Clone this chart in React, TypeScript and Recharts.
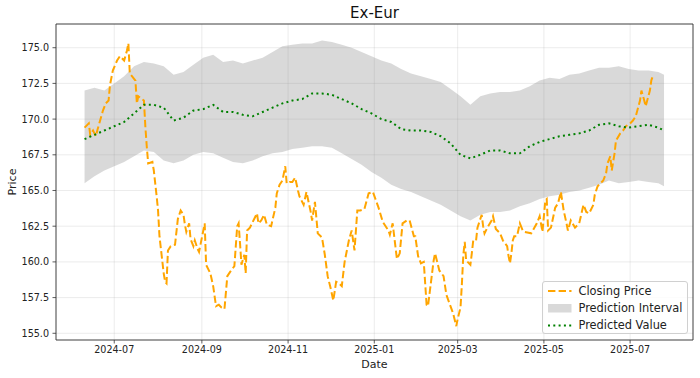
import React from 'react';
import { ComposedChart, Area, Line, XAxis, YAxis, CartesianGrid, ReferenceArea } from 'recharts';

const FONT = '"DejaVu Sans", "Liberation Sans", sans-serif';

// Prediction interval / predicted value (weekly)
const bandDates = [
  '2024-06-10','2024-06-17','2024-06-24','2024-07-01','2024-07-08','2024-07-15','2024-07-22','2024-07-29','2024-08-05','2024-08-12',
  '2024-08-19','2024-08-26','2024-09-02','2024-09-09','2024-09-16','2024-09-23','2024-09-30','2024-10-07','2024-10-14','2024-10-21',
  '2024-10-28','2024-11-04','2024-11-11','2024-11-18','2024-11-25','2024-12-02','2024-12-09','2024-12-16','2024-12-23','2024-12-30',
  '2025-01-06','2025-01-13','2025-01-20','2025-01-27','2025-02-03','2025-02-10','2025-02-17','2025-02-24','2025-03-03','2025-03-10',
  '2025-03-17','2025-03-24','2025-03-31','2025-04-07','2025-04-14','2025-04-21','2025-04-28','2025-05-05','2025-05-12','2025-05-19',
  '2025-05-26','2025-06-02','2025-06-09','2025-06-16','2025-06-23','2025-06-30','2025-07-07','2025-07-14','2025-07-21','2025-07-25',
];
const bandUpper = [
  172.0,172.2,172.0,172.5,173.0,173.7,174.0,173.9,173.7,173.1,
  173.3,173.8,174.3,174.5,174.0,174.1,173.9,174.1,174.3,174.7,
  175.1,175.2,175.3,175.3,175.5,175.4,175.2,175.0,174.7,174.4,
  174.1,173.9,173.5,173.2,173.0,172.8,172.6,172.1,171.6,171.0,
  171.6,171.8,171.9,171.9,172.0,172.3,172.7,172.9,172.8,173.1,
  173.2,173.4,173.6,173.6,173.7,173.5,173.4,173.4,173.3,173.1,
];
const bandLower = [
  165.5,166.0,166.4,166.7,167.0,167.4,167.8,167.7,167.1,166.9,
  167.1,167.5,167.7,167.6,167.3,167.0,166.9,167.1,167.4,167.6,
  167.7,167.9,168.0,168.1,168.1,168.0,167.6,167.2,166.8,166.3,
  165.9,165.4,165.1,164.9,164.6,164.3,164.0,163.6,163.2,162.9,
  163.3,163.5,163.5,163.6,163.9,164.1,164.4,164.6,164.7,164.9,
  165.0,165.2,165.4,165.7,165.5,165.6,165.7,165.6,165.5,165.3,
];
const predicted = [
  168.6,168.9,169.2,169.5,169.8,170.4,171.0,171.0,170.8,169.9,
  170.1,170.6,170.7,171.0,170.5,170.5,170.3,170.2,170.5,170.8,
  171.1,171.3,171.4,171.8,171.8,171.7,171.4,171.1,170.7,170.4,
  170.0,169.8,169.3,169.2,169.2,169.1,168.8,168.3,167.5,167.25,
  167.5,167.8,167.8,167.6,167.6,168.1,168.4,168.6,168.8,168.9,
  169.0,169.2,169.6,169.7,169.5,169.4,169.5,169.6,169.4,169.2,
];

// Closing price
const closeDates = [
  '2024-06-10','2024-06-13','2024-06-14','2024-06-16','2024-06-18','2024-06-19','2024-06-21','2024-06-23','2024-06-25','2024-06-27',
  '2024-06-28','2024-06-30','2024-07-03','2024-07-05','2024-07-08','2024-07-10','2024-07-11','2024-07-12','2024-07-16','2024-07-17',
  '2024-07-18','2024-07-22','2024-07-23','2024-07-24','2024-07-25','2024-07-28','2024-07-29','2024-07-31','2024-08-01','2024-08-02',
  '2024-08-05','2024-08-06','2024-08-07','2024-08-08','2024-08-10','2024-08-13','2024-08-15','2024-08-17','2024-08-19','2024-08-20',
  '2024-08-21','2024-08-23','2024-08-24','2024-08-26','2024-08-27','2024-08-29','2024-08-30','2024-09-01','2024-09-03','2024-09-04',
  '2024-09-07','2024-09-09','2024-09-11','2024-09-13','2024-09-15','2024-09-17','2024-09-19','2024-09-21','2024-09-24','2024-09-26',
  '2024-09-27','2024-09-28','2024-09-29','2024-10-01','2024-10-02','2024-10-03','2024-10-05','2024-10-07','2024-10-10','2024-10-11',
  '2024-10-13','2024-10-15','2024-10-17','2024-10-20','2024-10-23','2024-10-24','2024-10-26','2024-10-28','2024-10-30','2024-10-31',
  '2024-11-02','2024-11-04','2024-11-06','2024-11-08','2024-11-09','2024-11-12','2024-11-14','2024-11-17','2024-11-18','2024-11-20',
  '2024-11-22','2024-11-25','2024-11-27','2024-11-29','2024-12-01','2024-12-03','2024-12-05','2024-12-07','2024-12-09','2024-12-11',
  '2024-12-14','2024-12-16','2024-12-18','2024-12-20','2024-12-22','2024-12-25','2024-12-28','2024-12-31','2025-01-04','2025-01-07',
  '2025-01-11','2025-01-12','2025-01-14','2025-01-17','2025-01-19','2025-01-21','2025-01-24','2025-01-26','2025-01-29','2025-01-30',
  '2025-02-01','2025-02-03','2025-02-05','2025-02-07','2025-02-08','2025-02-12','2025-02-13','2025-02-15','2025-02-16','2025-02-19',
  '2025-02-21','2025-02-25','2025-02-26','2025-02-28','2025-03-01','2025-03-03','2025-03-04','2025-03-05','2025-03-06','2025-03-07',
  '2025-03-08','2025-03-10','2025-03-11','2025-03-12','2025-03-14','2025-03-15','2025-03-18','2025-03-19','2025-03-20','2025-03-22',
  '2025-03-25','2025-03-26','2025-03-28','2025-03-31','2025-04-02','2025-04-05','2025-04-06','2025-04-07','2025-04-08','2025-04-09',
  '2025-04-10','2025-04-12','2025-04-14','2025-04-16','2025-04-17','2025-04-22','2025-04-26','2025-04-28','2025-04-30','2025-05-02',
  '2025-05-03','2025-05-04','2025-05-06','2025-05-09','2025-05-11','2025-05-13','2025-05-15','2025-05-17','2025-05-18','2025-05-20',
  '2025-05-23','2025-05-26','2025-05-29','2025-05-31','2025-06-02','2025-06-05','2025-06-06','2025-06-08','2025-06-12','2025-06-14',
  '2025-06-15','2025-06-17','2025-06-18','2025-06-20','2025-06-21','2025-06-24','2025-06-26','2025-06-28','2025-07-01','2025-07-03',
  '2025-07-05','2025-07-08','2025-07-09','2025-07-11','2025-07-12','2025-07-15','2025-07-16','2025-07-17',
];
const closeValues = [
  169.4,169.7,168.9,169.2,168.8,169.2,169.9,170.6,171.1,171.3,
  172.4,173.4,174.1,174.4,174.1,174.8,175.3,173.2,172.7,171.1,
  171.6,171.3,169.5,168.1,166.9,167.0,166.4,164.6,163.6,161.8,
  159.2,158.6,158.5,160.8,161.1,161.2,163.0,163.6,163.3,162.6,
  162.1,162.7,161.6,161.1,161.5,160.9,160.7,161.7,162.7,159.8,
  159.2,158.3,156.9,157.0,156.8,156.7,159.0,159.3,159.7,162.5,
  162.7,161.3,159.8,160.5,159.2,162.2,162.4,162.8,163.4,162.7,
  162.9,163.3,162.6,162.5,163.8,164.8,165.4,165.7,166.7,165.5,
  165.6,165.6,165.9,165.0,164.6,164.0,164.9,163.5,162.9,164.2,
  162.0,161.7,160.5,159.0,158.2,157.3,158.6,158.5,158.3,160.0,
  161.5,162.2,160.8,163.6,163.6,163.7,164.8,164.9,163.8,162.8,
  162.2,161.9,162.7,160.2,160.6,162.7,162.9,162.9,161.8,161.8,
  160.4,159.9,160.0,157.0,156.9,160.1,160.6,159.8,159.4,159.0,
  157.7,156.6,156.3,155.5,156.0,156.8,158.5,160.5,161.4,160.1,
  160.0,159.8,160.6,161.5,161.5,162.4,163.3,162.5,162.0,162.4,
  162.9,163.2,162.3,162.0,161.5,161.1,160.4,159.9,160.6,161.5,
  161.8,161.8,162.7,162.2,162.1,162.0,162.7,163.2,162.1,164.3,
  164.4,162.2,162.4,163.8,164.1,164.9,163.6,162.7,162.2,162.9,
  162.4,162.7,164.0,163.5,163.4,164.0,164.7,165.3,165.7,166.2,
  166.9,167.4,166.4,167.6,168.5,169.0,169.2,169.5,169.7,169.9,
  170.2,171.3,172.0,171.3,170.9,172.0,172.7,173.0,
];

const xTickDates = ['2024-07-01','2024-09-01','2024-11-01','2025-01-01','2025-03-01','2025-05-01','2025-07-01'];
const yTicks = [155, 157.5, 160, 162.5, 165, 167.5, 170, 172.5, 175];

const ts = (s: string) => {
  const [y, m, d] = s.split('-').map(Number);
  return Date.UTC(y, m - 1, d);
};

const bandData = bandDates.map((d, i) => ({ t: ts(d), range: [bandLower[i], bandUpper[i]] }));
const predData = bandDates.map((d, i) => ({ t: ts(d), v: predicted[i] }));
const closeData = closeDates.map((d, i) => ({ t: ts(d), v: closeValues[i] }));

const X_MIN = Date.UTC(2024, 4, 20, 19);
const X_MAX = Date.UTC(2025, 7, 14, 12);
const Y_MIN = 154.53;
const Y_MAX = 176.66;

const fmtMonth = (v: number) => {
  const d = new Date(v);
  return `${d.getUTCFullYear()}-${String(d.getUTCMonth() + 1).padStart(2, '0')}`;
};

const Legend = () => (
  <div
    style={{
      position: 'absolute', left: 541.5, top: 280.5, width: 146, height: 53,
      border: '1px solid #d0d0d0', borderRadius: 3, background: 'rgba(255,255,255,0.8)',
      fontFamily: FONT, fontSize: 11.4, color: '#222', boxSizing: 'border-box',
    }}
  >
    <svg width={30} height={53} style={{ position: 'absolute', left: 0, top: 0 }}>
      <line x1={5} x2={28.5} y1={9} y2={9} stroke="#FFA500" strokeWidth={2} strokeDasharray="7.4 3.2" />
      <rect x={5} y={22} width={23.5} height={8.5} fill="#808080" fillOpacity={0.3} />
      <line x1={5} x2={28.5} y1={43.5} y2={43.5} stroke="#008000" strokeWidth={2} strokeDasharray="2 3.3" />
    </svg>
    <div style={{ position: 'absolute', left: 36, top: 1, lineHeight: '16px', whiteSpace: 'nowrap' }}>Closing Price</div>
    <div style={{ position: 'absolute', left: 36, top: 18.5, lineHeight: '16px', whiteSpace: 'nowrap' }}>Prediction Interval</div>
    <div style={{ position: 'absolute', left: 36, top: 35.5, lineHeight: '16px', whiteSpace: 'nowrap' }}>Predicted Value</div>
  </div>
);

export default function App() {
  return (
    <div style={{ position: 'absolute', left: 0, top: 0, width: 700, height: 378, background: '#fff', fontFamily: FONT }}>
      <ComposedChart width={700} height={378} margin={{ top: 24, right: 7, bottom: 0, left: 0 }}>
        <CartesianGrid stroke="#b0b0b0" strokeOpacity={0.3} strokeWidth={0.8} />
        <XAxis
          dataKey="t"
          type="number"
          domain={[X_MIN, X_MAX]}
          allowDataOverflow
          ticks={xTickDates.map(ts)}
          tickFormatter={fmtMonth}
          height={38}
          axisLine={false}
          tickSize={3.5}
          tickMargin={3}
          tickLine={{ stroke: '#333', strokeWidth: 0.8 }}
          tick={{ fill: '#222', fontSize: 9.6, fontFamily: FONT }}
        />
        <YAxis
          type="number"
          domain={[Y_MIN, Y_MAX]}
          allowDataOverflow
          ticks={yTicks}
          tickFormatter={(v: number) => v.toFixed(1)}
          width={56}
          axisLine={false}
          tickSize={3.5}
          tickMargin={3.5}
          tickLine={{ stroke: '#333', strokeWidth: 0.8 }}
          tick={{ fill: '#222', fontSize: 9.6, fontFamily: FONT }}
        />
        <Area
          data={bandData}
          dataKey="range"
          type="linear"
          fill="#808080"
          fillOpacity={0.3}
          stroke="none"
          isAnimationActive={false}
          dot={false}
          activeDot={false}
        />
        <Line
          data={closeData}
          dataKey="v"
          type="linear"
          stroke="#FFA500"
          strokeWidth={2}
          strokeDasharray="7.4 3.2"
          dot={false}
          activeDot={false}
          isAnimationActive={false}
        />
        <Line
          data={predData}
          dataKey="v"
          type="linear"
          stroke="#008000"
          strokeWidth={2}
          strokeDasharray="2 3.3"
          dot={false}
          activeDot={false}
          isAnimationActive={false}
        />
        <ReferenceArea
          x1={X_MIN}
          x2={X_MAX}
          y1={Y_MIN}
          y2={Y_MAX}
          fill="none"
          stroke="#333"
          strokeWidth={0.9}
          ifOverflow="visible"
        />
      </ComposedChart>
      <div style={{ position: 'absolute', left: 0, width: 749, top: 4, textAlign: 'center', fontSize: 15, color: '#111', lineHeight: '18px' }}>
        Ex-Eur
      </div>
      <div style={{ position: 'absolute', left: 0, width: 749, top: 358, textAlign: 'center', fontSize: 11, color: '#222', lineHeight: '14px' }}>
        Date
      </div>
      <div
        style={{
          position: 'absolute', left: 13, top: 182, fontSize: 11, color: '#222', lineHeight: '14px',
          transform: 'translate(-50%, -50%) rotate(-90deg)', whiteSpace: 'nowrap',
        }}
      >
        Price
      </div>
      <Legend />
    </div>
  );
}
